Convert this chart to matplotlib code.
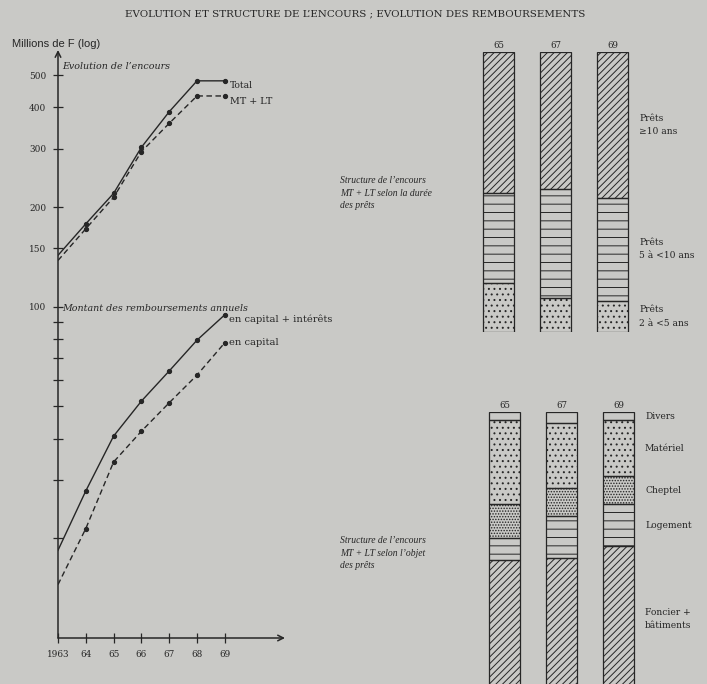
import numpy as np
import matplotlib
matplotlib.use("Agg")
import matplotlib.pyplot as plt
from matplotlib.ticker import NullLocator, FixedLocator, FixedFormatter

# ---- data ----
years = [1963, 1964, 1965, 1966, 1967, 1968, 1969]
year_labels = ["1963", "64", "65", "66", "67", "68", "69"]

encours_total = [143, 178, 220, 303, 388, 481, 481]
encours_mtlt = [138, 172, 214, 294, 358, 433, 433]
remb_cap_int = [18.4, 27.8, 40.7, 51.9, 64.0, 79.3, 94.6]
remb_capital = [14.5, 21.4, 34.0, 42.1, 51.3, 62.2, 77.9]

ytick_vals = [20, 30, 40, 50, 60, 70, 80, 90, 100, 150, 200, 300, 400, 500]
ytick_labels = ["", "", "", "", "", "", "", "", "100", "150", "200", "300", "400", "500"]

bar_years = ["65", "67", "69"]
# structure by duration (%), bottom to top
duree_labels = ["Prêts\n2 à <5 ans", "Prêts\n5 à <10 ans", "Prêts\n\u226510 ans"]
duree_2_5 = [17.5, 12, 11]
duree_5_10 = [32, 39, 37]
duree_10 = [50.5, 49, 52]

# structure by object (%), bottom to top
objet_labels = ["Foncier +\nbâtiments", "Logement", "Cheptel", "Matériel", "Divers"]
foncier = [47, 48, 52]
logement = [8, 15, 15]
cheptel = [12, 10, 10]
materiel = [30, 23, 20]
divers = [3, 4, 3]

# ---- style ----
PAGE = "#c9c9c6"
INK = "#262626"
plt.rcParams["font.family"] = ["DejaVu Serif"]
plt.rcParams["hatch.linewidth"] = 0.7
plt.rcParams["hatch.color"] = INK

W, H = 707, 684
fig = plt.figure(figsize=(W / 100, H / 100), dpi=100, facecolor=PAGE)


def px_axes(left, top, right, bottom):
    return fig.add_axes([left / W, 1 - bottom / H, (right - left) / W, (bottom - top) / H])


fig.text(355 / W, 1 - 14 / H,
         "EVOLUTION ET STRUCTURE DE L\u2019ENCOURS ; EVOLUTION DES REMBOURSEMENTS",
         ha="center", va="center", fontsize=7.4, color=INK)

# ---- left: log line chart ----
ax = px_axes(58, 50, 285, 638)
ax.set_facecolor("none")
ax.set_yscale("log")
ax.set_xlim(1963, 1963 + (285 - 58) / 27.8)
ax.set_ylim(10, 596)
for s in ax.spines.values():
    s.set_visible(False)
ax.annotate("", xy=(0, 1), xytext=(0, 0), xycoords="axes fraction",
            arrowprops=dict(arrowstyle="->", color=INK, lw=1.1, shrinkA=0, shrinkB=0))
ax.annotate("", xy=(1, 0), xytext=(0, 0), xycoords="axes fraction",
            arrowprops=dict(arrowstyle="->", color=INK, lw=1.1, shrinkA=0, shrinkB=0))

ax.yaxis.set_major_locator(FixedLocator(ytick_vals))
ax.yaxis.set_major_formatter(FixedFormatter(ytick_labels))
ax.yaxis.set_minor_locator(NullLocator())
ax.set_xticks(years)
ax.set_xticklabels(year_labels)
ax.tick_params(axis="both", direction="inout", length=7, width=0.9, color=INK,
               labelcolor=INK, labelsize=6.4, pad=5)

dash = (4, 2.5)
ax.plot(years, encours_total, color=INK, lw=1.0, marker="o", ms=2.8, markevery=slice(1, None))
ax.plot(years, encours_mtlt, color=INK, lw=1.0, dashes=dash, marker="o", ms=2.8,
        markevery=slice(1, None))
ax.plot(years, remb_cap_int, color=INK, lw=1.0, marker="o", ms=2.8, markevery=slice(1, None))
ax.plot(years, remb_capital, color=INK, lw=1.0, dashes=dash, marker="o", ms=2.8,
        markevery=slice(1, None))

ax.text(1969.2, encours_total[-1] * 0.97, "Total", fontsize=6.6, color=INK, va="center")
ax.text(1969.2, encours_mtlt[-1] * 0.96, "MT + LT", fontsize=6.9, color=INK, va="center")
ax.text(1969.15, remb_cap_int[-1] * 0.97, "en capital + intérêts", fontsize=7.1, color=INK,
        va="center")
ax.text(1969.15, remb_capital[-1], "en capital", fontsize=7.1, color=INK, va="center")
ax.text(1963.15, 530, "Evolution de l\u2019encours", fontsize=6.8, style="italic",
        color=INK, va="center")
ax.text(1963.15, 99, "Montant des remboursements annuels", fontsize=6.8, style="italic",
        color=INK, va="center")

fig.text(12 / W, 1 - 44 / H, "Millions de F (log)", fontsize=8.0, color=INK,
         va="center", family=["Liberation Sans", "DejaVu Sans"])

# ---- right: stacked structure bars ----
x = np.arange(len(bar_years))
bw = 0.53


def stacked(axb, series, hatches, labels):
    axb.set_facecolor("none")
    axb.set_xlim(-0.5, 2.5)
    axb.set_ylim(0, 100)
    axb.axis("off")
    bottom = np.zeros(len(x))
    for vals, h, lab in zip(series, hatches, labels):
        vals = np.array(vals, dtype=float)
        axb.bar(x, vals, bw, bottom=bottom, facecolor="none", edgecolor=INK,
                linewidth=0.9, hatch=h)
        axb.text(x[-1] + bw / 2 + 0.2, bottom[-1] + vals[-1] / 2, lab, fontsize=6.6,
                 color=INK, va="center", ha="left", linespacing=1.6)
        bottom += vals
    for xi, yl in zip(x, bar_years):
        axb.text(xi, 100.8, yl, fontsize=6.2, color=INK, ha="center", va="bottom")


ax1 = px_axes(470, 52, 641, 332)
stacked(ax1, [duree_2_5, duree_5_10, duree_10], ["...", "--", "/////"], duree_labels)

ax2 = px_axes(476, 412, 647, 692)
stacked(ax2, [foncier, logement, cheptel, materiel, divers],
        ["/////", "--", "......", "...", ""], objet_labels)

side_font = ["Liberation Serif", "DejaVu Serif"]
fig.text(340 / W, 1 - 193 / H,
         "Structure de l\u2019encours\nMT + LT selon la durée\ndes prêts",
         fontsize=6.9, style="italic", color=INK, va="center", linespacing=1.5,
         family=side_font)
fig.text(340 / W, 1 - 553 / H,
         "Structure de l\u2019encours\nMT + LT selon l\u2019objet\ndes prêts",
         fontsize=6.9, style="italic", color=INK, va="center", linespacing=1.5,
         family=side_font)

fig.savefig("out.png", dpi=100, facecolor=PAGE)
